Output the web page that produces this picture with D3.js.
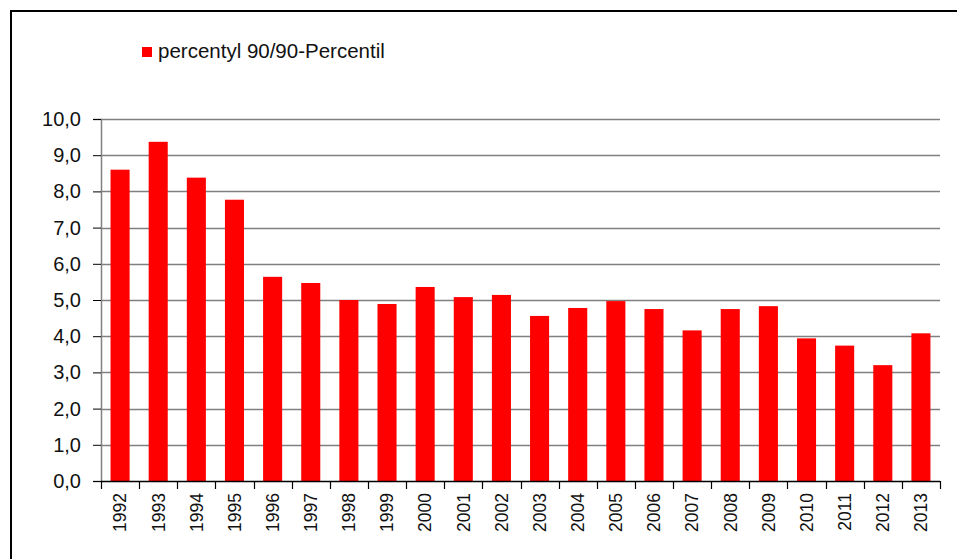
<!DOCTYPE html>
<html><head><meta charset="utf-8">
<script src="https://cdn.jsdelivr.net/npm/d3@7"></script>
<style>body{margin:0;background:#fff}svg{display:block}text{font-family:"Liberation Sans",Arial,sans-serif;fill:#111}</style>
</head><body>
<svg id="c" width="957" height="559"></svg>
<script>
const years = ["1992","1993","1994","1995","1996","1997","1998","1999","2000","2001","2002","2003","2004","2005","2006","2007","2008","2009","2010","2011","2012","2013"];
const values = [8.6,9.37,8.38,7.77,5.64,5.47,5.0,4.89,5.36,5.08,5.14,4.56,4.78,4.97,4.75,4.16,4.75,4.83,3.94,3.74,3.2,4.08];
const yTicks = [0,1,2,3,4,5,6,7,8,9,10];
const seriesName = "percentyl 90/90-Percentil";

const svg = d3.select("#c");
// outer frame
svg.append("rect").attr("x",11).attr("y",11).attr("width",1000).attr("height",600)
  .attr("fill","none").attr("stroke","#000").attr("stroke-width",2);

const x = d3.scaleBand().domain(years).range([101,940]).paddingInner(0.5).paddingOuter(0.25);
const y = d3.scaleLinear().domain([0,10]).range([481,119]);

// gridlines
svg.append("g").selectAll("line").data(yTicks.filter(d=>d>0)).join("line")
  .attr("x1",101).attr("x2",940).attr("y1",d=>Math.round(y(d))+0.5).attr("y2",d=>Math.round(y(d))+0.5)
  .attr("stroke","#808080").attr("stroke-width",1.3);

// bars
svg.append("g").selectAll("rect").data(values).join("rect")
  .attr("x",(d,i)=>x(years[i])).attr("width",x.bandwidth())
  .attr("y",d=>y(d)).attr("height",d=>y(0)-y(d)).attr("fill","#ff0000");

// y axis
const ya = svg.append("g").attr("transform","translate(101,0)")
  .call(d3.axisLeft(y).tickValues(yTicks).tickSize(8).tickPadding(12)
    .tickFormat(d=>d3.format(".1f")(d).replace(".",",")));
ya.select(".domain").attr("stroke","#808080").attr("stroke-width",1.5);
ya.selectAll(".tick line").attr("stroke","#000");
ya.selectAll("text").attr("font-size",20).attr("fill","#111").attr("font-family","Liberation Sans, Arial, sans-serif");

// x axis
const xs = d3.scaleLinear().domain([0,years.length]).range([101,940]);
const xa = svg.append("g");
xa.append("line").attr("x1",101).attr("x2",940).attr("y1",481.5).attr("y2",481.5).attr("stroke","#000").attr("stroke-width",1.3);
xa.selectAll("line.t").data(d3.range(years.length+1)).join("line").attr("class","t")
  .attr("x1",d=>Math.round(xs(d))+0.5).attr("x2",d=>Math.round(xs(d))+0.5).attr("y1",481).attr("y2",489)
  .attr("stroke","#000").attr("stroke-width",1.2);
xa.selectAll("text").data(years).join("text")
  .attr("transform",d=>`translate(${x(d)+x.bandwidth()/2},493) rotate(-90)`)
  .attr("text-anchor","end").attr("dy","0.36em").attr("font-size",17.5).text(d=>d);

// legend
svg.append("rect").attr("x",142).attr("y",47).attr("width",10).attr("height",10).attr("fill","#ff0000");
svg.append("text").attr("x",158).attr("y",58).attr("font-size",20.5).text(seriesName);
</script>
</body></html>
